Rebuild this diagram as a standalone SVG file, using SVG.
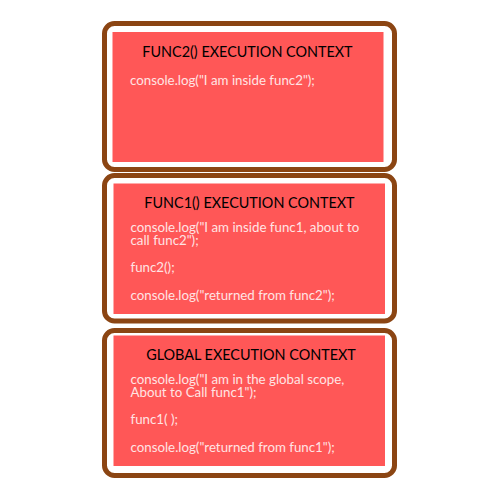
<svg xmlns="http://www.w3.org/2000/svg" width="500" height="500" viewBox="0 0 500 500">
  <style>
    .frame { fill: #ffffff; stroke: #8b4513; stroke-width: 5; }
    .panel { fill: #ff5757; }
    .title { font-family: Lato, "Open Sans", sans-serif; font-size: 14.4px; fill: #000000; text-anchor: middle; }
    .code { font-family: Lato, "Open Sans", sans-serif; font-size: 13.3px; fill: #ffe4e4; }
  </style>
  <rect width="500" height="500" fill="#ffffff"/>

  <!-- call stack, top of stack first -->
  <g id="func2-context">
    <rect class="frame" x="104.5" y="23.5" width="290" height="146" rx="10"/>
    <rect class="panel" x="112.5" y="32" width="271" height="130"/>
    <text class="title" x="247.5" y="57">FUNC2() EXECUTION CONTEXT</text>
    <text class="code" x="130" y="85">console.log("I am inside func2");</text>
  </g>

  <g id="func1-context">
    <rect class="frame" x="104.5" y="175.5" width="290" height="145.5" rx="10"/>
    <rect class="panel" x="113.5" y="183.5" width="271.5" height="130.5"/>
    <text class="title" x="249.5" y="208">FUNC1() EXECUTION CONTEXT</text>
    <text class="code" x="130.5" y="232">console.log("I am inside func1, about to<tspan x="130.5" dy="12.7">call func2");</tspan></text>
    <text class="code" x="130.5" y="272">func2();</text>
    <text class="code" x="130.5" y="299.7">console.log("returned from func2");</text>
  </g>

  <g id="global-context">
    <rect class="frame" x="104.5" y="330.5" width="290" height="145" rx="10"/>
    <rect class="panel" x="113.5" y="335.5" width="271.5" height="130.5"/>
    <text class="title" x="251" y="360">GLOBAL EXECUTION CONTEXT</text>
    <text class="code" x="130.5" y="384">console.log("I am in the global scope,<tspan x="130.5" dy="12.7">About to Call func1");</tspan></text>
    <text class="code" x="130.5" y="424">func1( );</text>
    <text class="code" x="130.5" y="451.7">console.log("returned from func1");</text>
  </g>

  <g id="connectors"/>
</svg>
